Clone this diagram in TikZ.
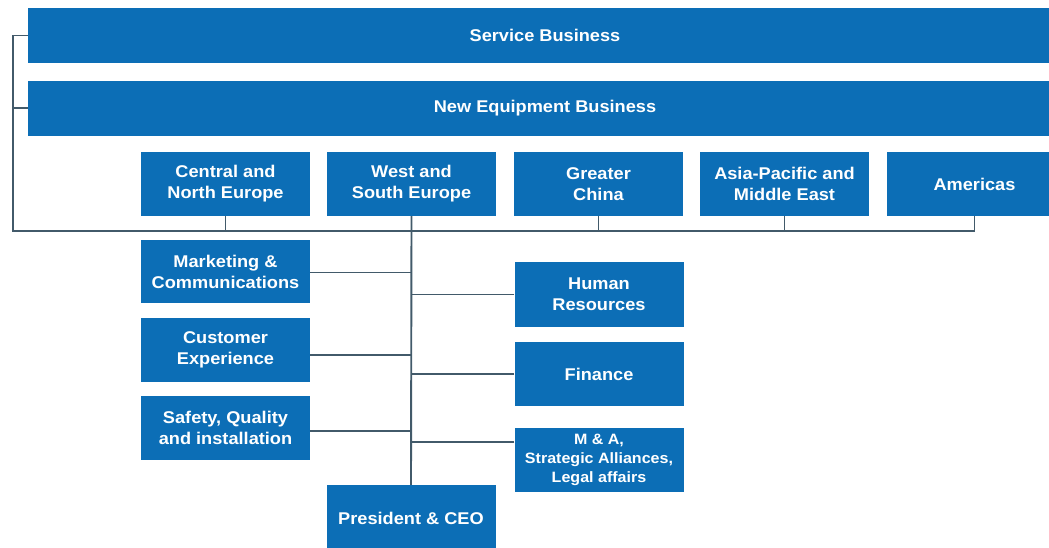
\documentclass[tikz,border=0pt]{standalone}
\usepackage{fontspec}
\setmainfont{Liberation Sans}[FakeStretch=1.07]
\usetikzlibrary{positioning,calc}

\definecolor{orgblue}{RGB}{12,110,182}
\definecolor{orgline}{RGB}{66,90,106}

\tikzset{
  unit/.style={rectangle, fill=orgblue, text=white, align=center,
    font=\bfseries\fontsize{17}{21}\selectfont, inner sep=0pt,
    minimum width=169pt, minimum height=64pt},
  bar/.style={unit, minimum width=1034pt, minimum height=55pt},
  link/.style={draw=orgline, line width=1.9pt}
}

\begin{document}
\begin{tikzpicture}[x=1pt, y=-1pt]
\useasboundingbox (0,0) rectangle (1049,547);
% business bars
\node[bar] (svc) at (545,35.5) {Service Business};
\node[bar] (neb) at (545,108) {New Equipment Business};
% regions
\node[unit] (cne) at (225.5,184) {Central and\\North Europe};
\node[unit] (wse) at (411.5,184) {West and\\South Europe};
\node[unit] (chn) at (598.5,184) {Greater\\China};
\node[unit] (apme) at (784.5,184) {Asia-Pacific and\\Middle East};
\node[unit, minimum width=175pt] (amer) at (974.5,184) {Americas};
% functions
\node[unit, minimum height=63pt] (mkt) at (225.5,271.5) {Marketing \&\\Communications};
\node[unit] (cx) at (225.5,350) {Customer\\Experience};
\node[unit] (sqi) at (225.5,428) {Safety, Quality\\and installation};
\node[unit, minimum height=65pt] (hr) at (599,294.5) {Human\\Resources};
\node[unit] (fin) at (599,374) {Finance};
\node[unit, font=\bfseries\fontsize{15}{19}\selectfont] (ma) at (599,460) {M \& A,\\Strategic Alliances,\\Legal affairs};
\node[unit, minimum height=66pt] (ceo) at (411,518) {President \& CEO};
% connectors
\coordinate (busL) at (13,231);
\draw[link] (svc.west) -| (busL) -| (amer.south);
\draw[link] (neb.west) -- (neb.west -| busL);
\foreach \n in {cne,chn,apme}
  \draw[link] (\n.south) -- (\n.south |- busL);
\draw[link] (wse.south) -- (ceo.north);
\draw[link] ([yshift=-1pt]mkt.east) -- ([yshift=-1pt]mkt.east -| ceo.north);
\draw[link] ([yshift=-5pt]cx.east) -- ([yshift=-5pt]cx.east -| ceo.north);
\draw[link] ([yshift=-3pt]sqi.east) -- ([yshift=-3pt]sqi.east -| ceo.north);
\foreach \n in {hr,fin}
  \draw[link] (\n.west) -- (\n.west -| ceo.north);
\draw[link] ([yshift=18pt]ma.west) -- ([yshift=18pt]ma.west -| ceo.north);
\end{tikzpicture}
\end{document}
